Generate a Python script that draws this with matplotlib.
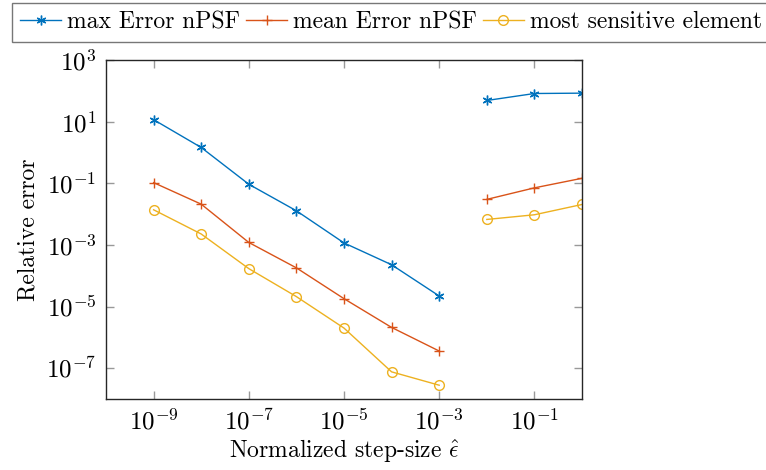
import numpy as np
import matplotlib
matplotlib.use("Agg")
import matplotlib.pyplot as plt

plt.rcParams['font.family'] = ['cmr10', 'DejaVu Serif']
plt.rcParams['mathtext.fontset'] = 'cm'
plt.rcParams['axes.formatter.use_mathtext'] = True

step = [1e-9, 1e-8, 1e-7, 1e-6, 1e-5, 1e-4, 1e-3, 1e-2, 1e-1, 1e0]
max_err = [11.6, 1.45, 0.093, 0.0128, 0.00116, 2.27e-4, 2.2e-5, 48.6, 81.8, 84.0]
mean_err = [0.105, 0.021, 0.0012, 1.8e-4, 1.8e-5, 2.1e-6, 3.6e-7, 0.030, 0.071, 0.145]
sens_err = [0.0138, 0.00226, 1.7e-4, 2.1e-5, 2.0e-6, 7.6e-8, 2.8e-8, 0.0067, 0.0095, 0.0205]
labels = ['max Error nPSF', 'mean Error nPSF', 'most sensitive element']
split = 7

fig = plt.figure(figsize=(7.66, 4.70), dpi=100)
ax = fig.add_axes([106/766, 1-399/470, (582-106)/766, (399-60)/470])

colors = ['#0072BD', '#D95319', '#EDB120']
markers = [(6, 2, 0), '+', 'o']
series = [max_err, mean_err, sens_err]
handles = []
for ys, c, m, lab in zip(series, colors, markers, labels):
    kw = dict(color=c, marker=m, markersize=7, lw=1.0, mfc='none', mec=c, mew=1.0)
    h, = ax.plot(step[:split], ys[:split], label=lab, **kw)
    ax.plot(step[split:], ys[split:], **kw)
    handles.append(h)

ax.set_xscale('log')
ax.set_yscale('log')
ax.set_xlim(1e-10, 1e0)
ax.set_ylim(1e-8, 1e3)
ax.set_xticks([1e-9, 1e-7, 1e-5, 1e-3, 1e-1])
ax.set_yticks([1e-7, 1e-5, 1e-3, 1e-1, 1e1, 1e3])
ax.minorticks_off()
ax.tick_params(which='both', direction='in', top=True, right=True, length=6,
               width=1, color='#999999', labelsize=18, pad=7)
for s in ax.spines.values():
    s.set_color('#262626')
    s.set_linewidth(1)
ax.set_xlabel('Normalized step-size $\\hat{\\epsilon}$', fontsize=17)
ax.set_ylabel('Relative error', fontsize=17)
ax.yaxis.set_label_coords(-0.139, 0.5)
ax.xaxis.set_label_coords(0.5, -0.113)

leg = fig.legend(handles=handles, loc='upper left', bbox_to_anchor=(12/766, 1-3/470),
                 ncol=3, fontsize=17, frameon=True, fancybox=False, handlelength=1.74,
                 handletextpad=0.25, columnspacing=0.25, borderpad=0.35, borderaxespad=0)
leg.get_frame().set_edgecolor('#555555')
leg.get_frame().set_linewidth(1)

fig.savefig('out.png', dpi=100)
